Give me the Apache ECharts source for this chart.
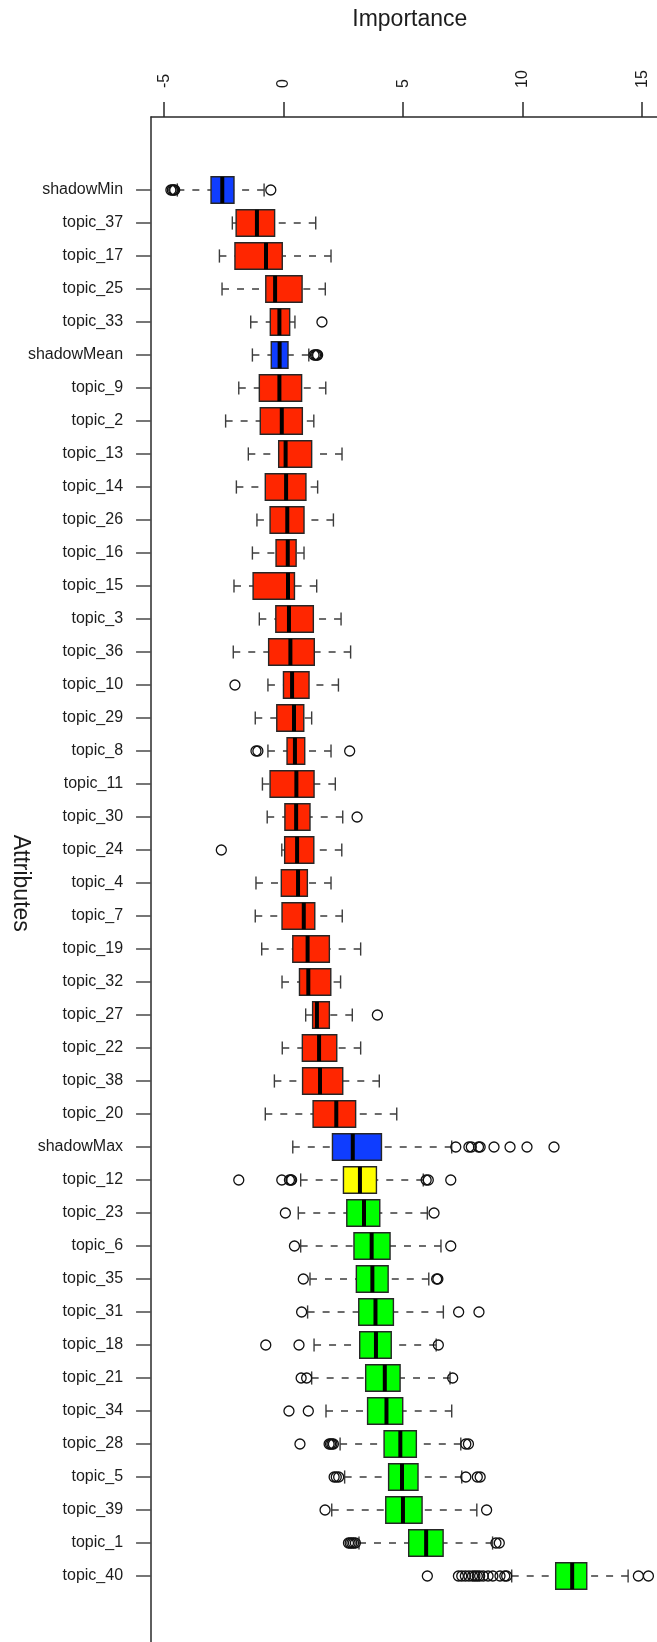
<!DOCTYPE html>
<html>
<head>
<meta charset="utf-8">
<title>Attribute importance</title>
<script src="https://cdn.jsdelivr.net/npm/echarts@6/dist/echarts.min.js"></script>
<style>
  html, body { margin: 0; padding: 0; background: #ffffff; }
  #chart { width: 657px; height: 1642px; }
</style>
</head>
<body>
<div id="chart"></div>
<script>
// Attributes, ordered from lowest to highest median importance
const attributes = [
  'shadowMin', 'topic_37', 'topic_17', 'topic_25', 'topic_33', 'shadowMean',
  'topic_9', 'topic_2', 'topic_13', 'topic_14', 'topic_26', 'topic_16',
  'topic_15', 'topic_3', 'topic_36', 'topic_10', 'topic_29', 'topic_8',
  'topic_11', 'topic_30', 'topic_24', 'topic_4', 'topic_7', 'topic_19',
  'topic_32', 'topic_27', 'topic_22', 'topic_38', 'topic_20', 'shadowMax',
  'topic_12', 'topic_23', 'topic_6', 'topic_35', 'topic_31', 'topic_18',
  'topic_21', 'topic_34', 'topic_28', 'topic_5', 'topic_39', 'topic_1',
  'topic_40'
];

// Decision for each attribute
const decisions = [
  'shadow', 'rejected', 'rejected', 'rejected', 'rejected', 'shadow',
  'rejected', 'rejected', 'rejected', 'rejected', 'rejected', 'rejected',
  'rejected', 'rejected', 'rejected', 'rejected', 'rejected', 'rejected',
  'rejected', 'rejected', 'rejected', 'rejected', 'rejected', 'rejected',
  'rejected', 'rejected', 'rejected', 'rejected', 'rejected', 'shadow',
  'tentative', 'confirmed', 'confirmed', 'confirmed', 'confirmed', 'confirmed',
  'confirmed', 'confirmed', 'confirmed', 'confirmed', 'confirmed', 'confirmed',
  'confirmed'
];

// Box statistics per attribute
const whiskerLow = [
  -4.45, -2.15, -2.69, -2.58, -1.38, -1.31,
  -1.88, -2.43, -1.48, -1.98, -1.12, -1.31,
  -2.08, -1.02, -2.11, -0.66, -1.19, -0.66,
  -0.89, -0.69, -0.08, -1.16, -1.19, -0.92,
  -0.07, 0.92, -0.06, -0.39, -0.77, 0.38,
  0.71, 0.61, 0.71, 1.10, 1.00, 1.27,
  1.17, 1.77, 2.36, 2.55, 2.01, 3.15,
  9.54
];
const quartile1 = [
  -3.04, -1.99, -2.04, -0.75, -0.56, -0.52,
  -1.02, -0.98, -0.21, -0.77, -0.57, -0.32,
  -1.28, -0.33, -0.63, -0.01, -0.29, 0.14,
  -0.57, 0.05, 0.04, -0.10, -0.07, 0.38,
  0.66, 1.21, 0.78, 0.79, 1.23, 2.04,
  2.50, 2.64, 2.94, 3.04, 3.14, 3.18,
  3.43, 3.51, 4.20, 4.39, 4.27, 5.23,
  11.38
];
const medians = [
  -2.57, -1.12, -0.74, -0.36, -0.18, -0.17,
  -0.18, -0.08, 0.08, 0.10, 0.15, 0.17,
  0.18, 0.22, 0.28, 0.35, 0.43, 0.47,
  0.53, 0.52, 0.56, 0.60, 0.84, 1.00,
  1.03, 1.39, 1.48, 1.52, 2.20, 2.89,
  3.19, 3.36, 3.68, 3.71, 3.84, 3.86,
  4.23, 4.30, 4.88, 4.95, 4.99, 5.96,
  12.07
];
const quartile3 = [
  -2.08, -0.38, -0.06, 0.77, 0.25, 0.18,
  0.75, 0.78, 1.17, 0.93, 0.85, 0.52,
  0.45, 1.24, 1.28, 1.06, 0.84, 0.88,
  1.27, 1.10, 1.26, 0.99, 1.30, 1.91,
  1.97, 1.91, 2.22, 2.47, 3.01, 4.09,
  3.88, 4.02, 4.45, 4.37, 4.59, 4.50,
  4.87, 4.98, 5.55, 5.62, 5.79, 6.67,
  12.68
];
const whiskerHigh = [
  -0.82, 1.34, 1.98, 1.74, 0.47, 1.05,
  1.76, 1.26, 2.44, 1.42, 2.08, 0.85,
  1.38, 2.40, 2.80, 2.29, 1.17, 1.98,
  2.16, 2.47, 2.43, 1.98, 2.45, 3.22,
  2.38, 2.87, 3.22, 4.00, 4.73, 7.03,
  5.84, 6.01, 6.58, 6.07, 6.68, 6.38,
  6.96, 7.03, 7.41, 7.45, 8.08, 8.74,
  14.41
];

// Points beyond the whiskers, per attribute
const outliers = [
  [-4.72, -4.66, -4.60, -4.56, -0.54],
  [],
  [],
  [],
  [1.60],
  [1.27, 1.33, 1.38, 1.42],
  [],
  [],
  [],
  [],
  [],
  [],
  [],
  [],
  [],
  [-2.04],
  [],
  [-1.16, -1.08, 2.76],
  [],
  [3.07],
  [-2.61],
  [],
  [],
  [],
  [],
  [3.92],
  [],
  [],
  [],
  [7.20, 7.75, 7.85, 8.15, 8.22, 8.80, 9.47, 10.18, 11.31],
  [-1.88, -0.08, 0.24, 0.30, 0.33, 5.96, 6.05, 6.99],
  [0.07, 6.29],
  [0.45, 6.99],
  [0.82, 6.40, 6.45],
  [0.75, 7.32, 8.17],
  [-0.75, 0.64, 6.47],
  [0.73, 0.96, 7.07],
  [0.22, 1.03],
  [0.68, 1.90, 1.96, 2.02, 2.08, 7.62, 7.73],
  [2.11, 2.20, 2.30, 7.62, 8.10, 8.22],
  [1.73, 8.49],
  [2.71, 2.78, 2.85, 2.92, 3.00, 8.88, 9.02],
  [6.01, 7.31, 7.45, 7.60, 7.75, 7.90, 8.00, 8.10, 8.20, 8.35, 8.55,
   8.75, 9.05, 9.25, 9.33, 14.84, 15.26]
];

// Importance axis tick labels
const importanceTicks = [-5, 0, 5, 10, 15];

const decisionColors = {
  shadow: '#0f3dff',
  rejected: '#ff2600',
  tentative: '#ffff00',
  confirmed: '#00ff00'
};

// Layout of the plotting region (pixels)
const FONT = '"Liberation Sans", Arial, Helvetica, sans-serif';
const TEXT = '#1c1c1c';
const X_MIN = -5.55, X_MAX = 16.1;
const UNIT = 23.9;                       // pixels per importance unit
const PLOT_LEFT = 283.7 + X_MIN * UNIT;  // left frame edge
const PLOT_TOP = 117;
const PLOT_WIDTH = (X_MAX - X_MIN) * UNIT;
const ROW = 33;                          // spacing between attributes
const FIRST_ROW = 190;                   // centre of the first attribute
const PLOT_HEIGHT = (attributes.length + 3.44) * ROW;

const boxRows = attributes.map((name, i) => [
  i, whiskerLow[i], quartile1[i], medians[i], quartile3[i], whiskerHigh[i]
]);

const outlierPoints = [];
outliers.forEach((list, i) => {
  list.forEach(v => outlierPoints.push([v, i]));
});

function renderBox(params, api) {
  const row = api.value(0);
  const pLow = api.coord([api.value(1), row]);
  const pQ1 = api.coord([api.value(2), row]);
  const pMed = api.coord([api.value(3), row]);
  const pQ3 = api.coord([api.value(4), row]);
  const pHigh = api.coord([api.value(5), row]);
  const band = api.size([0, 1])[1];
  const boxH = band * 0.8;
  const capH = boxH * 0.5;
  const cy = pMed[1];
  const fill = decisionColors[decisions[params.dataIndex]];
  const dashed = { stroke: '#3c3c3c', lineWidth: 1.4, lineDash: [7, 8] };
  const solid = { stroke: '#3c3c3c', lineWidth: 1.4 };
  return {
    type: 'group',
    children: [
      { type: 'line', shape: { x1: pLow[0], y1: cy, x2: pQ1[0], y2: cy }, style: dashed },
      { type: 'line', shape: { x1: pHigh[0], y1: cy, x2: pQ3[0], y2: cy }, style: dashed },
      { type: 'line', shape: { x1: pLow[0], y1: cy - capH / 2, x2: pLow[0], y2: cy + capH / 2 }, style: solid },
      { type: 'line', shape: { x1: pHigh[0], y1: cy - capH / 2, x2: pHigh[0], y2: cy + capH / 2 }, style: solid },
      {
        type: 'rect',
        shape: { x: pQ1[0], y: cy - boxH / 2, width: pQ3[0] - pQ1[0], height: boxH },
        style: { fill: fill, stroke: '#262626', lineWidth: 1.4 }
      },
      {
        type: 'line',
        shape: { x1: pMed[0], y1: cy - boxH / 2, x2: pMed[0], y2: cy + boxH / 2 },
        style: { stroke: '#000000', lineWidth: 4 }
      }
    ]
  };
}

const chart = echarts.init(document.getElementById('chart'), null, { renderer: 'canvas' });

chart.setOption({
  backgroundColor: '#ffffff',
  animation: false,
  textStyle: { fontFamily: FONT },
  grid: [
    // frame with the importance axis
    { left: PLOT_LEFT, top: PLOT_TOP, width: PLOT_WIDTH, height: PLOT_HEIGHT,
      outerBoundsMode: 'none', containLabel: false },
    // attribute rows
    { left: PLOT_LEFT, top: FIRST_ROW - ROW / 2, width: PLOT_WIDTH,
      height: attributes.length * ROW, outerBoundsMode: 'none', containLabel: false }
  ],
  xAxis: [
    {
      gridIndex: 0, type: 'value', position: 'top', min: X_MIN, max: X_MAX,
      name: 'Importance', nameLocation: 'middle', nameGap: 86,
      nameTextStyle: { fontSize: 23, color: TEXT, fontFamily: FONT },
      axisLine: { show: true, onZero: false, lineStyle: { color: '#2a2a2a', width: 1.5 } },
      axisTick: { show: true, length: 15, customValues: importanceTicks,
        lineStyle: { color: '#2a2a2a', width: 1.5 } },
      axisLabel: { show: true, customValues: importanceTicks, rotate: -90, margin: 29,
        fontSize: 16, color: TEXT, fontFamily: FONT },
      splitLine: { show: false }
    },
    {
      gridIndex: 1, type: 'value', min: X_MIN, max: X_MAX, show: false,
      splitLine: { show: false }
    }
  ],
  yAxis: [
    {
      gridIndex: 0, type: 'value', min: 0, max: 1,
      name: 'Attributes', nameLocation: 'middle', nameRotate: -90, nameGap: 119,
      nameTextStyle: { fontSize: 23, color: TEXT, fontFamily: FONT },
      axisLine: { show: true, onZero: false, lineStyle: { color: '#2a2a2a', width: 1.5 } },
      axisTick: { show: false },
      axisLabel: { show: false },
      splitLine: { show: false }
    },
    {
      gridIndex: 1, type: 'category', data: attributes, inverse: true,
      axisLine: { show: false, onZero: false },
      axisTick: { show: true, length: 15, alignWithLabel: true,
        lineStyle: { color: '#4a4a4a', width: 1.5 } },
      axisLabel: { show: true, interval: 0, margin: 28, fontSize: 16,
        color: TEXT, fontFamily: FONT },
      splitLine: { show: false }
    }
  ],
  series: [
    {
      type: 'custom',
      xAxisIndex: 1, yAxisIndex: 1,
      renderItem: renderBox,
      encode: { y: 0, x: [1, 2, 3, 4, 5] },
      data: boxRows,
      silent: true
    },
    {
      type: 'scatter',
      xAxisIndex: 1, yAxisIndex: 1,
      data: outlierPoints,
      symbol: 'circle',
      symbolSize: 10,
      itemStyle: { color: 'rgba(0,0,0,0)', borderColor: '#111111', borderWidth: 1.3, opacity: 1 },
      silent: true,
      z: 3
    }
  ]
});
</script>
</body>
</html>
